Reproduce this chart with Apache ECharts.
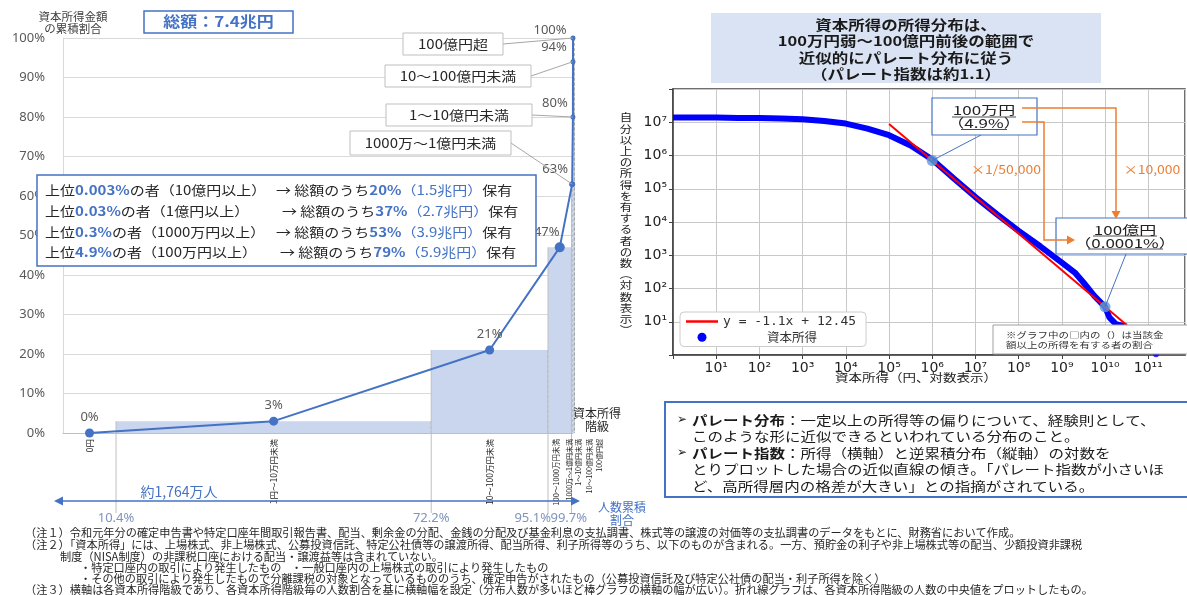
<!DOCTYPE html>
<html><head><meta charset="utf-8">
<script src="https://cdn.jsdelivr.net/npm/echarts@6/dist/echarts.min.js"></script>
<style>html,body{margin:0;padding:0;background:#fff}#c{width:1187px;height:595px}</style>
</head><body><div id="c"></div>
<script>
// ---------- Left chart data ----------
const classLabels = ['0円','1円～10万円未満','10～100万円未満','100～1000万円未満','1000万～1億円未満','1～10億円未満','10～100億円未満','100億円超'];
const popStart = [0, 10.4, 72.2, 95.1, 99.7, 99.97, 99.997, 99.9999];
const popEnd   = [10.4, 72.2, 95.1, 99.7, 99.97, 99.997, 99.9999, 100];
const amountCumPct = [0, 3, 21, 47, 63, 80, 94, 100];
const boxLabels = ['1000万～1億円未満','1～10億円未満','10～100億円未満','100億円超'];
// ---------- Right chart data (log10 values) ----------
const incomeLog10 = [0, 0.5, 1, 1.5, 2, 2.5, 3, 3.5, 4, 4.5, 5, 5.5, 6, 6.5, 7, 7.5, 8, 8.5, 9, 9.3, 9.5, 9.75, 10, 10.1, 10.25, 10.5];
const countLog10  = [7.14, 7.14, 7.14, 7.13, 7.13, 7.11, 7.09, 7.04, 6.96, 6.81, 6.61, 6.30, 5.88, 5.31, 4.75, 4.23, 3.73, 3.27, 2.78, 2.48, 2.18, 1.78, 1.45, 1.13, 0.93, 0.85];
const outlierLog10 = [[11.18, 0.02]];
const fitX = [5, 10.5];
const fitY = [6.95, 0.9];
const markerX = [6, 10];
const markerY = [5.85, 1.45];

const SUP = '⁰¹²³⁴⁵⁶⁷⁸⁹';
const sup = n => String(n).split('').map(d => SUP[+d]).join('');
const JP = 'Noto Sans CJK JP';
const powLabel = (lo, hi) => v => { const e = Math.round(v); if (Math.abs(v - e) > 1e-6 || e < lo || e > hi) return ''; return '10' + sup(e); };

const chart = echarts.init(document.getElementById('c'));
const mids = popStart.map((s, i) => (s + popEnd[i]) / 2);
const ptSize = [9, 9, 9, 10, 6, 5, 5, 5];
const lblOffset = [[0,0],[0,0],[0,0],[-13,1],[-17,0],[-18,0],[-19,0],[-23,6]];
const extAlign = [null, 'center', 'center', 'right', 'left'];
const extDx = [0, 0, 0, 3, -21];

const option = {
  animation: false,
  textStyle: {fontFamily: JP},
  grid: [
    {left: 63, right: 614, top: 38, bottom: 162, outerBoundsMode: 'none'},
    {left: 673, right: 2, top: 89, bottom: 240, show: true, borderColor: '#404040', borderWidth: 1.5, outerBoundsMode: 'none'}
  ],
  xAxis: [
    {type: 'value', gridIndex: 0, min: 0, max: 100, axisLabel: {show: false}, axisTick: {show: false},
     splitLine: {show: false}, axisLine: {show: true, lineStyle: {color: '#BFBFBF'}}},
    {type: 'value', gridIndex: 1, min: 0, max: 11.85, interval: 1,
     axisLine: {lineStyle: {color: '#404040', width: 1.5}}, axisTick: {show: true, length: 4, lineStyle: {color: '#404040'}},
     splitLine: {show: true, lineStyle: {color: '#C8C8C8', width: 1}},
     axisLabel: {fontFamily: 'DejaVu Sans', fontSize: 14, color: '#222', margin: 6, showMaxLabel: false, formatter: powLabel(1, 11)}}
  ],
  yAxis: [
    {type: 'value', gridIndex: 0, min: 0, max: 100, interval: 10,
     axisLabel: {formatter: '{value}%', fontFamily: 'Noto Sans', fontSize: 13, color: '#595959', margin: 18},
     axisLine: {show: true, lineStyle: {color: '#D9D9D9'}}, axisTick: {show: false},
     splitLine: {lineStyle: {color: '#D9D9D9'}}},
    {type: 'value', gridIndex: 1, min: 0, max: 8, interval: 1,
     axisLine: {show: true, lineStyle: {color: '#404040', width: 1.5}}, axisTick: {show: true, length: 4, lineStyle: {color: '#404040'}},
     splitLine: {show: true, lineStyle: {color: '#C8C8C8', width: 1}},
     axisLabel: {fontFamily: 'DejaVu Sans', fontSize: 14, color: '#222', margin: 6, formatter: powLabel(1, 7)}}
  ],
  legend: {
    data: [{name: 'y = -1.1x + 12.45', icon: 'path://M0,0L32,0L32,2.5L0,2.5Z'}, {name: '資本所得', icon: 'circle'}],
    orient: 'vertical', left: 680, top: 312, itemWidth: 32, itemHeight: 9, itemGap: 3,
    padding: [3, 10, 3, 6], backgroundColor: '#fff', borderColor: '#CCCCCC', borderWidth: 1, borderRadius: 4,
    formatter: n => n === '資本所得' ? '{j|' + n + '}' : '{m|' + n + '}',
    textStyle: {rich: {m: {fontFamily: 'DejaVu Sans Mono', fontSize: 13, color: '#333'},
                       j: {fontFamily: JP, fontSize: 12.5, color: '#333', padding: [0, 0, 0, 44]}}}
  },
  series: [
    {type: 'custom', name: 'bars', xAxisIndex: 0, yAxisIndex: 0, z: 2,
     encode: {x: [0, 1], y: 2},
     data: popStart.map((s, i) => [s, popEnd[i], amountCumPct[i], i]),
     renderItem: function (params, api) {
       const i = api.value(3), x0 = api.value(0), x1 = api.value(1), h = api.value(2);
       const tl = api.coord([x0, h]), br = api.coord([x1, 0]);
       const ch = [];
       if (h > 0) {
         const w = Math.max(br[0] - tl[0], 1.3);
         ch.push({type: 'rect', shape: {x: tl[0], y: tl[1], width: w, height: br[1] - tl[1]}, style: {fill: '#CAD6EE'}});
         ch.push({type: 'line', shape: {x1: tl[0] + w, y1: tl[1], x2: tl[0] + w, y2: br[1]}, style: {stroke: '#9A9A9A', lineWidth: 0.8, lineDash: [3, 2]}});
       }
       if (i >= 1 && i <= 4) {
         ch.push({type: 'line', shape: {x1: tl[0], y1: tl[1], x2: tl[0], y2: br[1] + 80}, style: {stroke: '#BFBFBF', lineWidth: 1}});
         ch.push({type: 'text', x: tl[0] + extDx[i], y: br[1] + 85,
                  style: {text: x0.toFixed(1) + '%', fill: '#7F93BF', fontSize: 13, fontFamily: 'Noto Sans', align: extAlign[i], verticalAlign: 'middle'}});
       }
       return {type: 'group', children: ch};
     }},
    {type: 'line', name: 'cum', xAxisIndex: 0, yAxisIndex: 0, z: 5, symbol: 'circle',
     lineStyle: {color: '#4472C4', width: 2}, itemStyle: {color: '#4472C4'},
     label: {show: true, position: 'top', distance: 5, fontFamily: 'Noto Sans', fontSize: 13, color: '#595959',
             formatter: p => p.value[1] + '%'},
     data: amountCumPct.map((v, i) => ({value: [mids[i], v], symbolSize: ptSize[i], label: {offset: lblOffset[i]}}))},
    {type: 'line', name: '資本所得', xAxisIndex: 1, yAxisIndex: 1, z: 3, showSymbol: false, symbol: 'circle',
     lineStyle: {color: '#0000FF', width: 6}, itemStyle: {color: '#0000FF'},
     data: incomeLog10.map((x, i) => [x, countLog10[i]])},
    {type: 'scatter', name: '資本所得', xAxisIndex: 1, yAxisIndex: 1, z: 3, symbolSize: 6,
     itemStyle: {color: '#0000FF'}, data: outlierLog10},
    {type: 'line', name: 'y = -1.1x + 12.45', xAxisIndex: 1, yAxisIndex: 1, z: 4, showSymbol: false,
     lineStyle: {color: '#FF0000', width: 2}, itemStyle: {color: '#FF0000'},
     data: fitX.map((x, i) => [x, fitY[i]])},
    {type: 'scatter', name: 'marker', xAxisIndex: 1, yAxisIndex: 1, z: 6, symbolSize: 11,
     itemStyle: {color: '#5B9BD5'}, data: markerX.map((x, i) => [x, markerY[i]])}
  ]
};
chart.setOption(option);

// ---------- annotations (text, boxes, leader lines) ----------
const G = [];
const Z = 100;
function text(x, y, t, st, el) {
  G.push(Object.assign({type: 'text', x: x, y: y, z: Z,
    style: Object.assign({text: t, fill: '#262626', fontSize: 12, fontFamily: JP, align: 'left', verticalAlign: 'middle'}, st || {})}, el || {}));
}
function rect(x, y, w, h, st) {
  G.push({type: 'rect', z: Z, shape: {x: x, y: y, width: w, height: h}, style: Object.assign({fill: '#fff', stroke: '#BFBFBF', lineWidth: 1}, st || {})});
}
function line(pts, st) {
  G.push({type: 'polyline', z: Z, shape: {points: pts}, style: Object.assign({stroke: '#A6A6A6', lineWidth: 1, fill: null}, st || {})});
}
function tri(pts, color) {
  G.push({type: 'polygon', z: Z, shape: {points: pts}, style: {fill: color}});
}
const px0 = v => chart.convertToPixel({gridIndex: 0}, v);
const px1 = v => chart.convertToPixel({gridIndex: 1}, v);

// left: titles
text(73, 23, '資本所得金額\nの累積割合', {align: 'center', fontSize: 11.5, lineHeight: 12, fill: '#404040'});
rect(144, 11, 149, 22, {stroke: '#4472C4', lineWidth: 1.5});
text(218.5, 22, '総額：7.4兆円', {align: 'center', fontSize: 17, fontWeight: 'bold', fill: '#4472C4'}, {scaleY: 0.85});

// left: annotation boxes with leader lines to top classes
const boxes = [[350, 131, 161, 24], [386, 104, 146, 22], [385, 65, 146, 22], [403, 33, 100, 22]];
boxes.forEach((b, k) => {
  const i = 4 + k;
  const p = px0([mids[i], amountCumPct[i]]);
  line([[b[0] + b[2], b[1] + b[3] / 2], p], {stroke: '#A6A6A6'});
  rect(b[0], b[1], b[2], b[3]);
  text(b[0] + b[2] / 2, b[1] + b[3] / 2, boxLabels[k], {align: 'center', fontSize: 15, fill: '#262626'}, {scaleY: 0.85});
});

// left: summary box
rect(37, 175, 499, 91, {stroke: '#4472C4', lineWidth: 1.5});
const rich = {b: {fill: '#4472C4', fontWeight: 'bold', fontSize: 15, fontFamily: JP}, c: {fill: '#4472C4', fontSize: 15, fontFamily: JP}};
const sumL = ['上位{b|0.003%}の者（10億円以上）', '上位{b|0.03%}の者（1億円以上）', '上位{b|0.3%}の者（1000万円以上）', '上位{b|4.9%}の者（100万円以上）'];
const sumR = ['→ 総額のうち{b|20%}{c|（1.5兆円）}保有', '→ 総額のうち{b|37%}{c|（2.7兆円）}保有', '→ 総額のうち{b|53%}{c|（3.9兆円）}保有', '→ 総額のうち{b|79%}{c|（5.9兆円）}保有'];
const sumY = [190, 211, 232, 252];
const sumRX = [276, 282, 276, 280];
sumL.forEach((t, k) => {
  text(45, sumY[k], t, {fontSize: 15, rich: rich}, {scaleY: 0.85});
  text(sumRX[k], sumY[k], sumR[k], {fontSize: 15, rich: rich}, {scaleY: 0.85});
});

// left: category labels (rotated) under the axis
const catShift = [0, 0, 0, -4, -3, 5, 16, 26];
const catFont = [8.5, 8.5, 8.5, 7.5, 7, 7, 7, 7];
classLabels.forEach((t, i) => {
  const p = px0([mids[i], 0]);
  text(p[0] + catShift[i], p[1] + 6, t, {align: 'right', fontSize: catFont[i], fill: '#262626'}, {rotation: Math.PI / 2});
});
text(597, 419.5, '資本所得\n階級', {align: 'center', fontSize: 12, lineHeight: 13, fill: '#262626'});

// left: population arrow
line([[60, 501], [574, 501]], {stroke: '#4472C4', lineWidth: 1.5});
tri([[54, 501], [63, 496.5], [63, 505.5]], '#4472C4');
tri([[580, 501], [571, 496.5], [571, 505.5]], '#4472C4');
text(179, 492, '約1,764万人', {align: 'center', fontSize: 14, fill: '#4472C4'});
text(622, 514, '人数累積\n割合', {align: 'center', fontSize: 12, lineHeight: 12.5, fill: '#4472C4'});

// right: title box
rect(711, 13, 390, 70, {fill: '#DAE3F3', stroke: null, lineWidth: 0});
text(906, 49.5, '資本所得の所得分布は、\n100万円弱～100億円前後の範囲で\n近似的にパレート分布に従う\n（パレート指数は約1.1）',
     {align: 'center', fontSize: 16.5, fontWeight: 'bold', lineHeight: 20, fill: '#1a1a1a'}, {scaleY: 0.82});

// right: axis names
text(626, 224, '自分以上の所得を有する者の数︵対数表示︶'.split('').join('\n'), {align: 'center', fontSize: 12.5, lineHeight: 14, fill: '#222'}, {scaleY: 0.8});
text(916, 378, '資本所得（円、対数表示）', {align: 'center', fontSize: 13.5, fill: '#222'}, {scaleY: 0.85});

// right: marker annotations
const m1 = px1([markerX[0], markerY[0]]);
const m2 = px1([markerX[1], markerY[1]]);
line([[981, 135], m1], {stroke: '#4472C4', lineWidth: 1});
line([[1126, 254], m2], {stroke: '#4472C4', lineWidth: 1});
rect(932, 98, 105, 37, {stroke: '#4472C4', lineWidth: 1.2});
text(984, 117, '100万円\n（4.9%）', {align: 'center', fontSize: 17, lineHeight: 17.5, fill: '#222'}, {scaleY: 0.72});
line([[952, 117], [1016, 117]], {stroke: '#222', lineWidth: 0.8});
line([[961, 129.5], [1007, 129.5]], {stroke: '#222', lineWidth: 0.8});
rect(1056, 218, 138, 36, {stroke: '#4472C4', lineWidth: 1.2});
text(1125, 237, '100億円\n（0.0001%）', {align: 'center', fontSize: 17, lineHeight: 19, fill: '#222'}, {scaleY: 0.72});
line([[1093, 236], [1157, 236]], {stroke: '#222', lineWidth: 0.8});
line([[1088, 249], [1163, 249]], {stroke: '#222', lineWidth: 0.8});
// orange arrows
const OR = '#ED7D31';
line([[1022, 108], [1116, 108], [1116, 212]], {stroke: OR, lineWidth: 1.5});
tri([[1116, 219], [1111.5, 211], [1120.5, 211]], OR);
line([[1022, 122], [1044, 122], [1044, 240], [1067, 240]], {stroke: OR, lineWidth: 1.5});
tri([[1075, 240], [1067, 235.5], [1067, 244.5]], OR);
text(1006, 169, '×1/50,000', {align: 'center', fontSize: 14, fill: OR}, {scaleY: 0.85});
text(1152, 169, '×10,000', {align: 'center', fontSize: 14, fill: OR}, {scaleY: 0.85});
// note box
rect(993, 325, 197, 29, {stroke: '#A0A0A0', lineWidth: 1});
text(1006, 340, '※グラフ中の□内の（）は当該金\n額以上の所得を有する者の割合', {fontSize: 10.5, lineHeight: 13, fill: '#333'}, {scaleY: 0.8});

// right: explanation box
rect(665, 402, 527, 95, {stroke: '#4472C4', lineWidth: 2});
text(677, 420, '➢', {fontSize: 12, fontFamily: 'DejaVu Sans', fill: '#1a1a1a'});
text(677, 453, '➢', {fontSize: 12, fontFamily: 'DejaVu Sans', fill: '#1a1a1a'});
text(692, 453,
  '{b|パレート分布}：一定以上の所得等の偏りについて、経験則として、\nこのような形に近似できるといわれている分布のこと。\n{b|パレート指数}：所得（横軸）と逆累積分布（縦軸）の対数を\nとりプロットした場合の近似直線の傾き。「パレート指数が小さいほ\nど、高所得層内の格差が大きい」との指摘がされている。',
  {fontSize: 15.5, lineHeight: 20, fill: '#1a1a1a', rich: {b: {fontWeight: 'bold', fontSize: 15.5, lineHeight: 20, fill: '#1a1a1a', fontFamily: JP}}},
  {scaleY: 0.82});

// footnotes
const FS = {fontSize: 11.2, fill: '#262626'};
text(25, 533, '（注１）令和元年分の確定申告書や特定口座年間取引報告書、配当、剰余金の分配、金銭の分配及び基金利息の支払調書、株式等の譲渡の対価等の支払調書のデータをもとに、財務省において作成。', FS);
text(25, 545, '（注２）「資本所得」には、上場株式、非上場株式、公募投資信託、特定公社債等の譲渡所得、配当所得、利子所得等のうち、以下のものが含まれる。一方、預貯金の利子や非上場株式等の配当、少額投資非課税', FS);
text(60, 556.5, '制度（NISA制度）の非課税口座における配当・譲渡益等は含まれていない。', FS);
text(80, 567.5, '・特定口座内の取引により発生したもの', FS);
text(291, 567.5, '・一般口座内の上場株式の取引により発生したもの', FS);
text(80, 578.5, '・その他の取引により発生したもので分離課税の対象となっているもののうち、確定申告がされたもの（公募投資信託及び特定公社債の配当・利子所得を除く）', FS);
text(25, 589.5, '（注３）横軸は各資本所得階級であり、各資本所得階級毎の人数割合を基に横軸幅を設定（分布人数が多いほど棒グラフの横軸の幅が広い）。折れ線グラフは、各資本所得階級の人数の中央値をプロットしたもの。', FS);

chart.setOption({graphic: {elements: G}});
</script>
</body></html>
